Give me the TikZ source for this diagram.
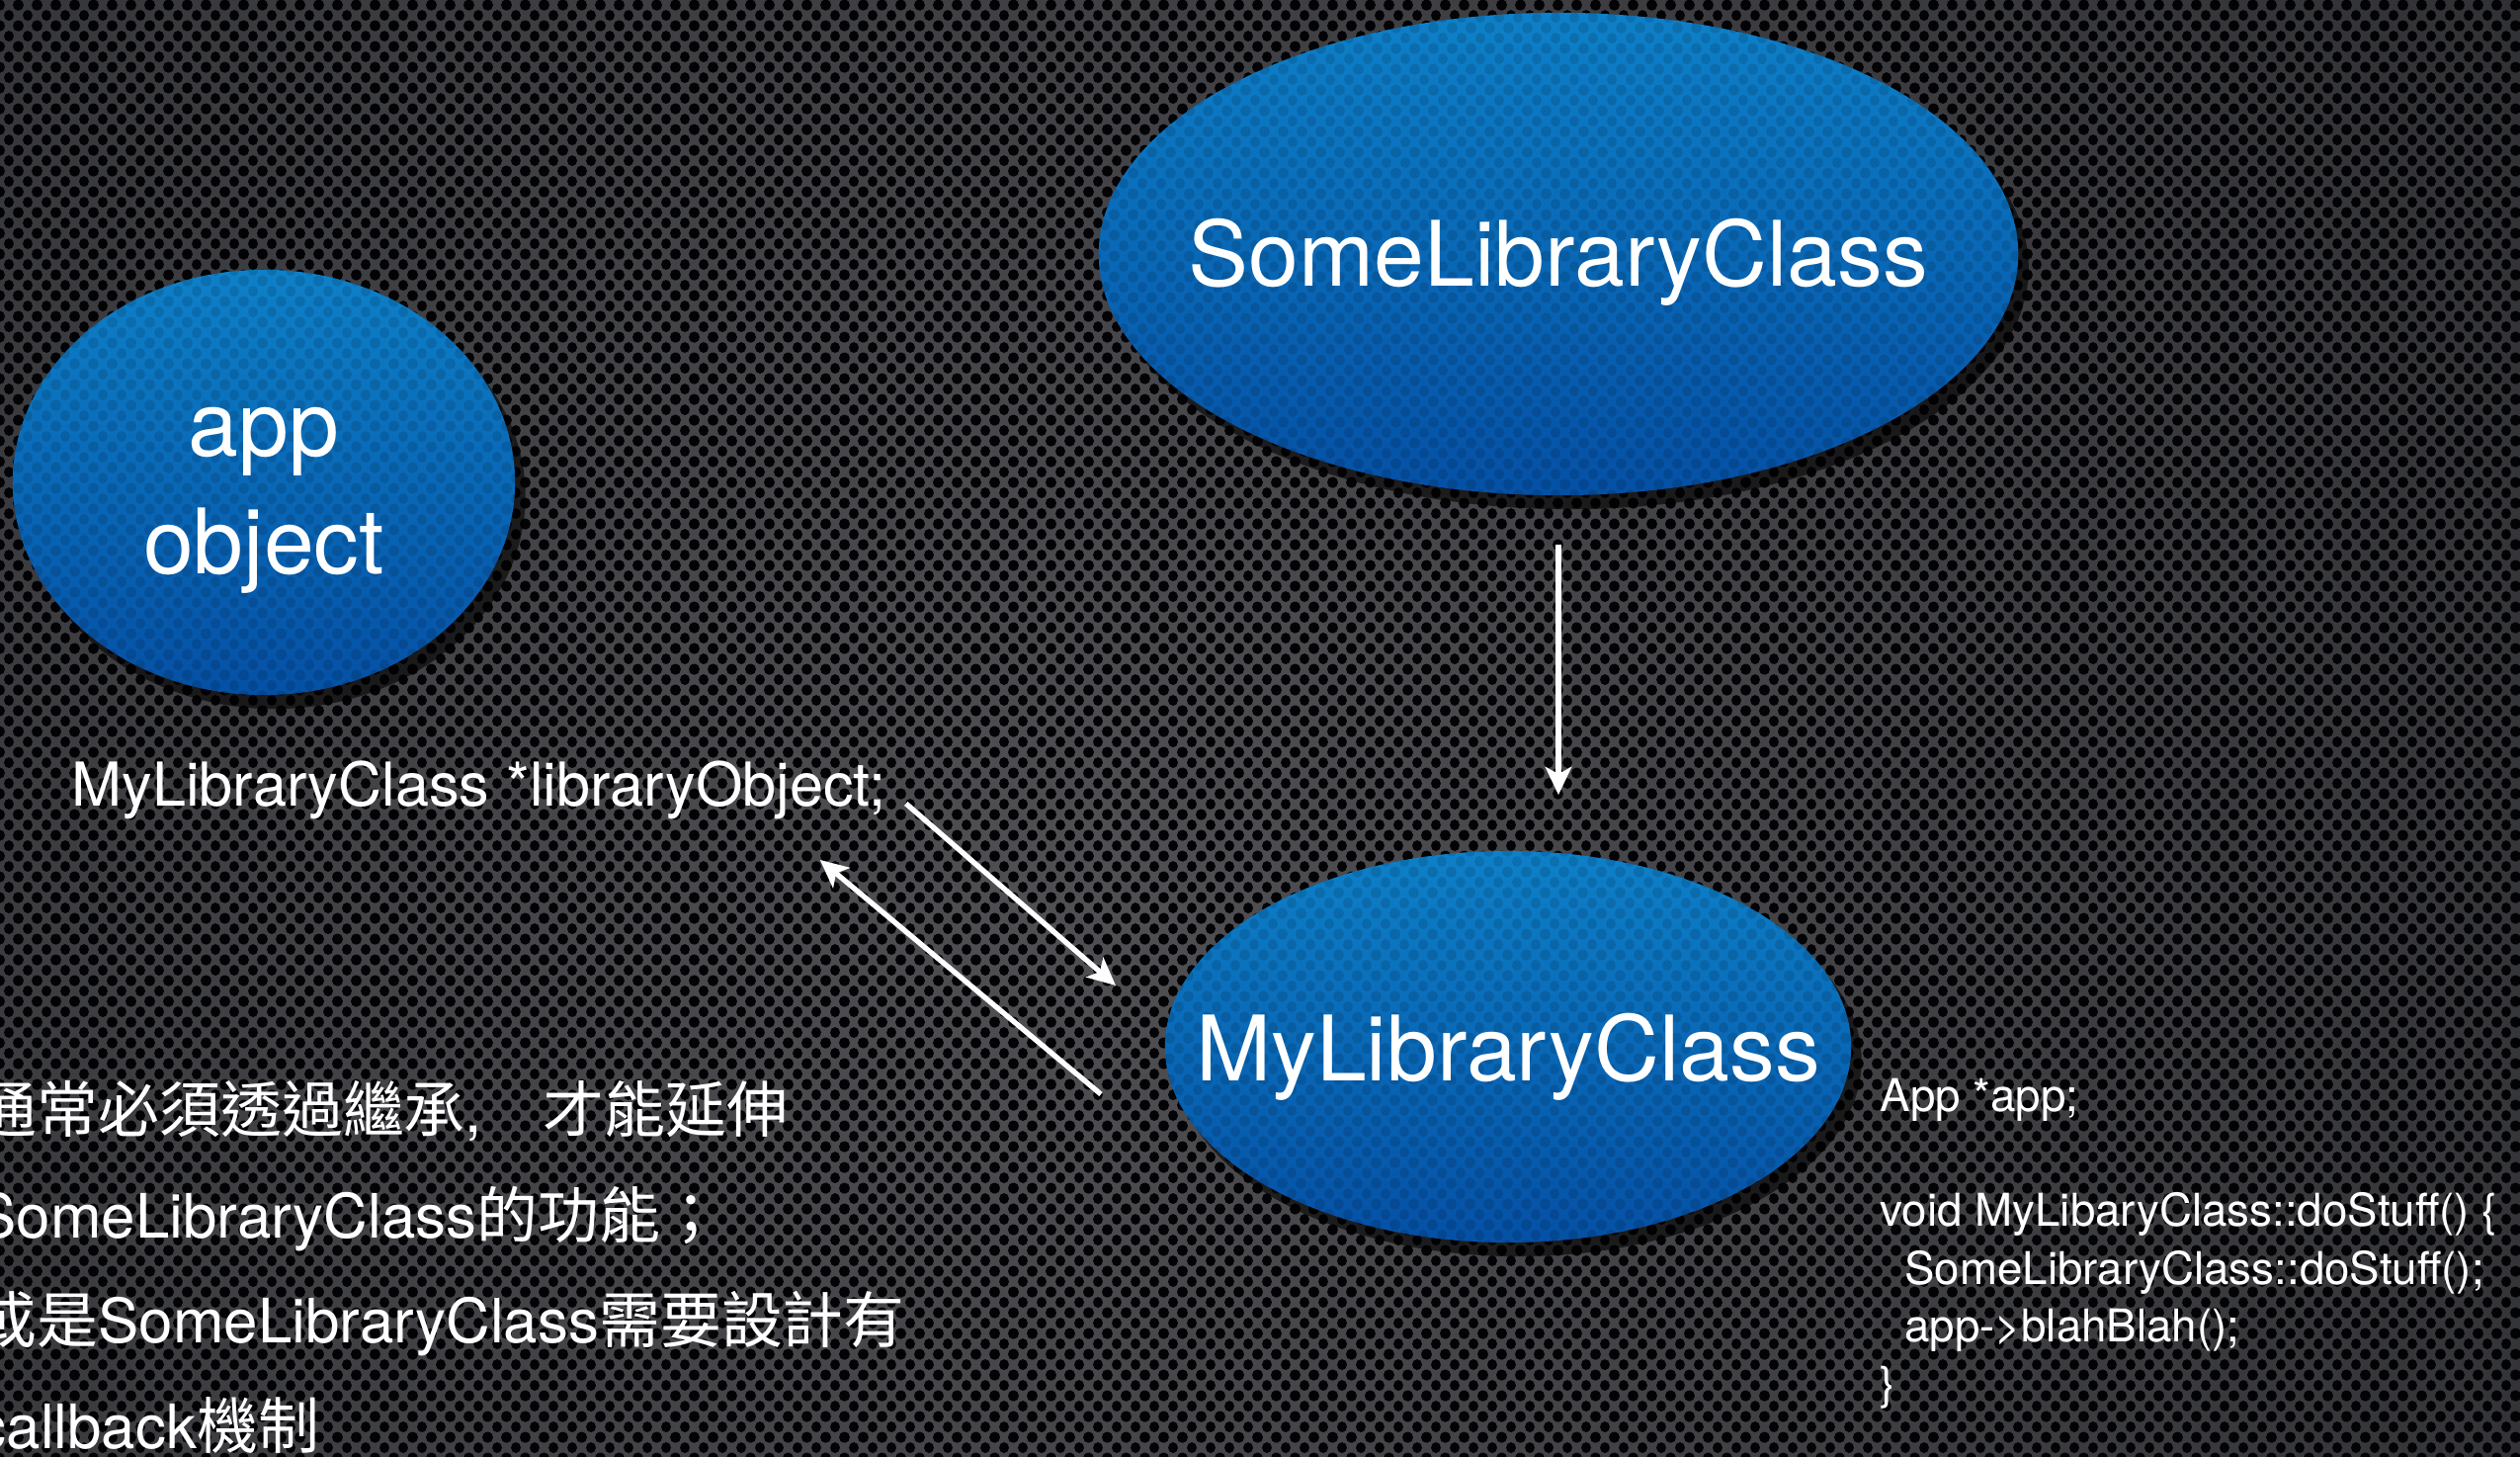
\documentclass[tikz,border=0pt]{standalone}
\usepackage{fontspec}
\setmainfont{TeX Gyre Heros}
\newfontfamily\cjk{Noto Sans CJK TC}
\usetikzlibrary{shapes.geometric,shadows,arrows.meta,patterns,positioning}
\definecolor{blobtop}{RGB}{14,128,200}
\definecolor{blobbot}{RGB}{5,80,165}
\definecolor{metal}{RGB}{80,80,84}
\definecolor{metaldark}{RGB}{14,15,18}
\definecolor{hole}{RGB}{3,3,5}
\newcommand{\zw}[2][2.5pt]{\raisebox{-#1}[\height][\depth]{\makebox[0pt]{#2}}}
\pgfdeclarepatternformonly{mesh}{\pgfqpoint{0pt}{0pt}}{\pgfqpoint{5.26pt}{6.09pt}}{\pgfqpoint{5.26pt}{6.09pt}}{
  \pgfpathellipse{\pgfqpoint{0pt}{0pt}}{\pgfqpoint{1.45pt}{0pt}}{\pgfqpoint{0pt}{1.6pt}}
  \pgfpathellipse{\pgfqpoint{5.26pt}{0pt}}{\pgfqpoint{1.45pt}{0pt}}{\pgfqpoint{0pt}{1.6pt}}
  \pgfpathellipse{\pgfqpoint{0pt}{6.09pt}}{\pgfqpoint{1.45pt}{0pt}}{\pgfqpoint{0pt}{1.6pt}}
  \pgfpathellipse{\pgfqpoint{5.26pt}{6.09pt}}{\pgfqpoint{1.45pt}{0pt}}{\pgfqpoint{0pt}{1.6pt}}
  \pgfpathellipse{\pgfqpoint{2.63pt}{3.045pt}}{\pgfqpoint{1.45pt}{0pt}}{\pgfqpoint{0pt}{1.6pt}}
  \pgfusepath{fill}
}

\begin{document}
\begin{tikzpicture}[x=0.01cm, y=-0.01cm,
    blob/.style={ellipse, inner sep=0pt, draw=none, top color=blobtop, bottom color=blobbot,
      text=white, align=center, font=\fontsize{26pt}{32.4pt}\selectfont,
      drop shadow={shadow xshift=3pt, shadow yshift=-4pt, opacity=0.6, fill=black},
      postaction={pattern=mesh, pattern color=black, fill opacity=0.12}},
    txt/.style={text=white, inner sep=0pt},
    arr/.style={white, line width=1.5pt, -{Stealth[length=8pt, width=7.5pt, inset=2pt]}}]
  \useasboundingbox (0,0) rectangle (2550,1474);
  \clip (0,0) rectangle (2550,1474);
  \shade[inner color=metal, outer color=metaldark] (-2500,-2700) rectangle (4700,4500);
  \fill[pattern=mesh, pattern color=hole] (0,0) rectangle (2550,1474);

  \node[blob, minimum width=9.30cm, minimum height=4.88cm] (slc) at (1577,257) {\zw{SomeLibraryClass}};
  \node[blob, minimum width=5.08cm, minimum height=4.30cm] (app) at (267,488) {\zw[5.3pt]{app}\\[1.4pt]\zw[5.3pt]{object}};
  \node[blob, minimum width=6.94cm, minimum height=3.96cm] (mlc) at (1526,1059) {\zw[3pt]{MyLibraryClass}};

  \node[txt, anchor=base west, font=\fontsize{17.4pt}{20pt}\selectfont] (lo) at (72,816) {MyLibraryClass *libraryObject;};
  \node[txt, anchor=north west, align=left, font=\fontsize{17.6pt}{30.3pt}\selectfont] (note) at (-25,1093)
    {{\cjk 通常必須透過繼承},{\cjk 　才能延伸}\\
     SomeLibraryClass{\cjk 的功能；}\\
     {\cjk 或是}SomeLibraryClass{\cjk 需要設計有}\\
     callback{\cjk 機制}};
  \node[txt, anchor=north west, align=left, font=\fontsize{13pt}{16.6pt}\selectfont] (code) at (1902,1090)
    {App *app;\\[16.6pt]
     void MyLibaryClass::doStuff() \{\\
     \hspace*{7pt}SomeLibraryClass::doStuff();\\
     \hspace*{7pt}app->blahBlah();\\
     \}};

  \coordinate (lo out) at ([shift={(20,-3)}]lo.base east);
  \coordinate (lo in) at ([shift={(-67,54)}]lo.base east);
  \coordinate (mlc in) at ([shift={(-397,-62)}]mlc.center);
  \coordinate (mlc out) at ([shift={(-412,48)}]mlc.center);

  \draw[arr, shorten <=0.49cm, shorten >=0.56cm] (slc.south) -- (slc.south |- mlc.north);
  \draw[arr] (lo out) -- (mlc in);
  \draw[arr] (mlc out) -- (lo in);
\end{tikzpicture}
\end{document}
